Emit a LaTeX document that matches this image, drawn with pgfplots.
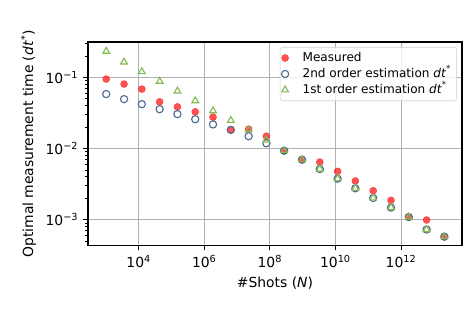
\documentclass[border=0pt]{standalone}
\usepackage{pgfplots}
\pgfplotsset{compat=1.18}
\usepackage{fontspec}
\setmainfont{DejaVu Sans}
\definecolor{mred}{RGB}{255,40,40}
\definecolor{mblue}{RGB}{76,105,145}
\definecolor{mgreen}{RGB}{130,185,80}
\definecolor{mgrid}{RGB}{176,176,176}
\pgfplotsset{myleg/.style={legend image code/.code={\draw[##1, mark repeat=2, mark phase=2] plot coordinates {(0pt,0pt) (10.4pt,0pt) (18.8pt,0pt)};}}}
\begin{document}
\begin{tikzpicture}
\begin{axis}[
  at={(0,0)}, anchor=south west,
  scale only axis, width=269.3pt, height=146.5pt,
  xmode=log, ymode=log,
  xmin=285, xmax=7.2e13,
  ymin=4.35e-4, ymax=0.314,
  axis line style={line width=0.8pt},
  tick align=outside, xtick pos=lower, ytick pos=left,
  major tick length=3.5pt, minor tick length=2pt,
  every tick/.style={black, line width=0.8pt},
  every minor tick/.style={black, line width=0.6pt},
  xminorticks=false,
  xtick={1e4,1e6,1e8,1e10,1e12},
  xticklabels={10\textsuperscript{4},10\textsuperscript{6},10\textsuperscript{8},10\textsuperscript{10},10\textsuperscript{12}},
  ytick={1e-3,1e-2,1e-1},
  yticklabels={10\textsuperscript{−3},10\textsuperscript{−2},10\textsuperscript{−1}},
  minor ytick={5e-4,6e-4,7e-4,8e-4,9e-4,2e-3,3e-3,4e-3,5e-3,6e-3,7e-3,8e-3,9e-3,2e-2,3e-2,4e-2,5e-2,6e-2,7e-2,8e-2,9e-2,2e-1,3e-1},
  grid=major,
  major grid style={mgrid, line width=0.8pt},
  tick label style={font=\fontsize{10}{12}\selectfont},
  label style={font=\fontsize{10}{12}\selectfont},
  xlabel={\#Shots (\textit{N})},
  ylabel={Optimal measurement time (\textit{dt}\textsuperscript{*})},
  legend style={at={(1,1)}, anchor=north east, xshift=-3.6pt, yshift=-3.6pt,
    draw=black!18, rounded corners=2pt, fill=white, fill opacity=0.8, text opacity=1,
    font=\fontsize{8.7}{10.5}\selectfont, row sep=0pt, inner xsep=1pt, inner ysep=2pt,
    nodes={inner xsep=3pt, inner ysep=1.5pt, text height=6.6pt, text depth=1.9pt},
    /tikz/every odd column/.append style={column sep=7pt}},
  legend cell align=left,
]
\addplot[only marks, myleg, mark=*, mark size=2.5pt, mark options={draw=mred, fill=mred, opacity=0.8}] coordinates {
(1023,0.0946) (3573,0.0805) (12450,0.0684) (43450,0.0453) (151360,0.0385)
(528450,0.0328) (1845000,0.0276) (6427000,0.0183) (22440000,0.0187) (78160000,0.0149)
(2.729e8,0.00931) (9.528e8,0.00697) (3.319e9,0.00646) (1.159e10,0.00478) (4.036e10,0.00350)
(1.409e11,0.00255) (4.920e11,0.00187) (1.714e12,0.00109) (5.984e12,0.00099) (2.084e13,0.000577)
};
\addlegendentry{Measured}
\addplot[only marks, myleg, mark=o, mark size=2.6pt, mark options={draw=mblue, line width=0.8pt, fill=none}] coordinates {
(1023,0.0582) (3573,0.0494) (12450,0.0420) (43450,0.0357) (151360,0.0304)
(528450,0.0258) (1845000,0.0218) (6427000,0.0183) (22440000,0.0149) (78160000,0.01185)
(2.729e8,0.00931) (9.528e8,0.00697) (3.319e9,0.00515) (1.159e10,0.00377) (4.036e10,0.00276)
(1.409e11,0.00202) (4.920e11,0.00148) (1.714e12,0.00109) (5.984e12,0.000728) (2.084e13,0.000577)
};
\addlegendentry{2nd order estimation \textit{dt}\textsuperscript{*}}
\addplot[only marks, myleg, mark=triangle, mark size=2.8pt, mark options={draw=mgreen, line width=0.8pt, fill=none}] coordinates {
(1023,0.232) (3573,0.164) (12450,0.120) (43450,0.0879) (151360,0.0641)
(528450,0.0468) (1845000,0.0339) (6427000,0.0248) (22440000,0.0183) (78160000,0.01315)
(2.729e8,0.00931) (9.528e8,0.00697) (3.319e9,0.00515) (1.159e10,0.00377) (4.036e10,0.00276)
(1.409e11,0.00202) (4.920e11,0.00148) (1.714e12,0.00109) (5.984e12,0.000728) (2.084e13,0.000577)
};
\addlegendentry{1st order estimation \textit{dt}\textsuperscript{*}}
\end{axis}
\pgfresetboundingbox
\path[use as bounding box] ([xshift=-63.4pt,yshift=-48.6pt]current axis.south west) rectangle ([xshift=5.04pt,yshift=30.24pt]current axis.north east);
\end{tikzpicture}
\end{document}
